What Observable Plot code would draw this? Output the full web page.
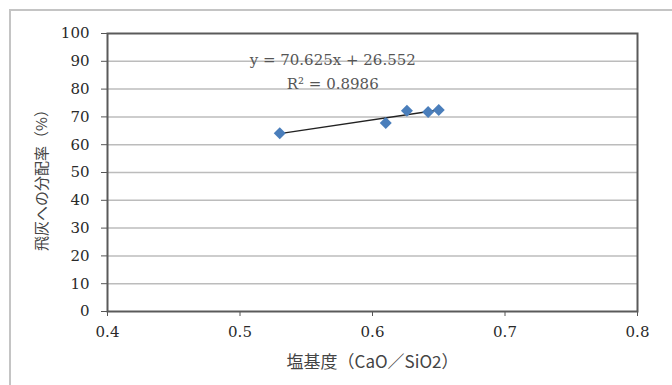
<!DOCTYPE html>
<html>
<head>
<meta charset="utf-8">
<script src="https://cdn.jsdelivr.net/npm/d3@7"></script>
<script src="https://cdn.jsdelivr.net/npm/@observablehq/plot@0.6"></script>
<style>
  html, body { margin: 0; padding: 0; background: #fff; overflow: hidden; }
  #wrap { position: relative; width: 672px; height: 385px; }
  #box { position: absolute; left: 9px; top: 9px; width: 700px; height: 420px;
         border: 2px solid #c4c4c4; box-sizing: border-box; }
  #chart { position: absolute; left: 0; top: 0; }
</style>
</head>
<body>
<div id="wrap"><div id="box"></div><div id="chart"></div></div>
<script>
// Basicity (CaO/SiO2) vs. distribution ratio to fly ash (%)
const basicity = [0.53, 0.61, 0.626, 0.642, 0.65];
const ashRatio = [64.1, 67.8, 72.2, 71.8, 72.5];

// Linear trendline as stated in the label
const slope = 70.625;
const intercept = 26.552;
const r2 = 0.8986;

const xTicks = [0.4, 0.5, 0.6, 0.7, 0.8];
const yTicks = [0, 10, 20, 30, 40, 50, 60, 70, 80, 90, 100];

const xTitle = "塩基度（CaO／SiO2）";
const yTitle = "飛灰への分配率（%）";

// where the equation annotation sits, in data units
const eqAnchor = {x: 0.57, y: 90.5, y2: 81.7};

const points = basicity.map((x, i) => ({x, y: ashRatio[i]}));
const xMin = d3.min(basicity), xMax = d3.max(basicity);
const trend = [xMin, xMax].map(x => ({x, y: slope * x + intercept}));
const xMid = d3.mean(d3.extent(xTicks));
const yMid = d3.mean(d3.extent(yTicks));

const cjk = "Noto Sans CJK JP, sans-serif";
const serif = "DejaVu Serif, serif";

const chart = Plot.plot({
  width: 672,
  height: 385,
  marginLeft: 107,
  marginRight: 35,
  marginTop: 33,
  marginBottom: 74,
  style: {fontFamily: serif, fontSize: "15px", background: "transparent", overflow: "visible"},
  x: {domain: [0.4, 0.8]},
  y: {domain: [0, 100]},
  marks: [
    Plot.gridY(yTicks.slice(1, -1), {stroke: "#bcbcbc", strokeOpacity: 1, strokeWidth: 1.5}),
    Plot.axisX(xTicks, {tickSize: 5, tickPadding: 10, stroke: "#555", fill: "#2a2a2a",
      fontFamily: serif, fontSize: 15, tickFormat: d => d.toFixed(1), label: null}),
    Plot.axisY(yTicks, {tickSize: 6, tickPadding: 12, stroke: "#555", fill: "#2a2a2a",
      fontFamily: serif, fontSize: 15, label: null}),
    Plot.frame({stroke: "#5a5a5a", strokeWidth: 2}),
    Plot.line(trend, {x: "x", y: "y", stroke: "#222", strokeWidth: 1.5}),
    Plot.dot(points, {x: "x", y: "y", symbol: d3.symbolDiamond2, r: 5.4,
      fill: "#4a7ebb", stroke: "none"}),
    Plot.text([`y = ${slope}x + ${intercept}`], {x: () => eqAnchor.x, y: () => eqAnchor.y,
      text: d => d, fontFamily: serif, fontSize: 15, fill: "#555"}),
    Plot.text([`R² = ${r2}`], {x: () => eqAnchor.x, y: () => eqAnchor.y2,
      text: d => d, fontFamily: serif, fontSize: 15, fill: "#555"}),
    Plot.text([xTitle], {x: () => xMid, y: () => 0, dy: 51, text: d => d,
      fontFamily: cjk, fontSize: 17, fill: "#444"}),
    Plot.text([yTitle], {x: () => 0.4, y: () => yMid, dx: -65, dy: 4, rotate: -90,
      textAnchor: "middle", text: d => d, fontFamily: cjk, fontSize: 15, fill: "#444"})
  ]
});
document.getElementById("chart").append(chart);
</script>
</body>
</html>
